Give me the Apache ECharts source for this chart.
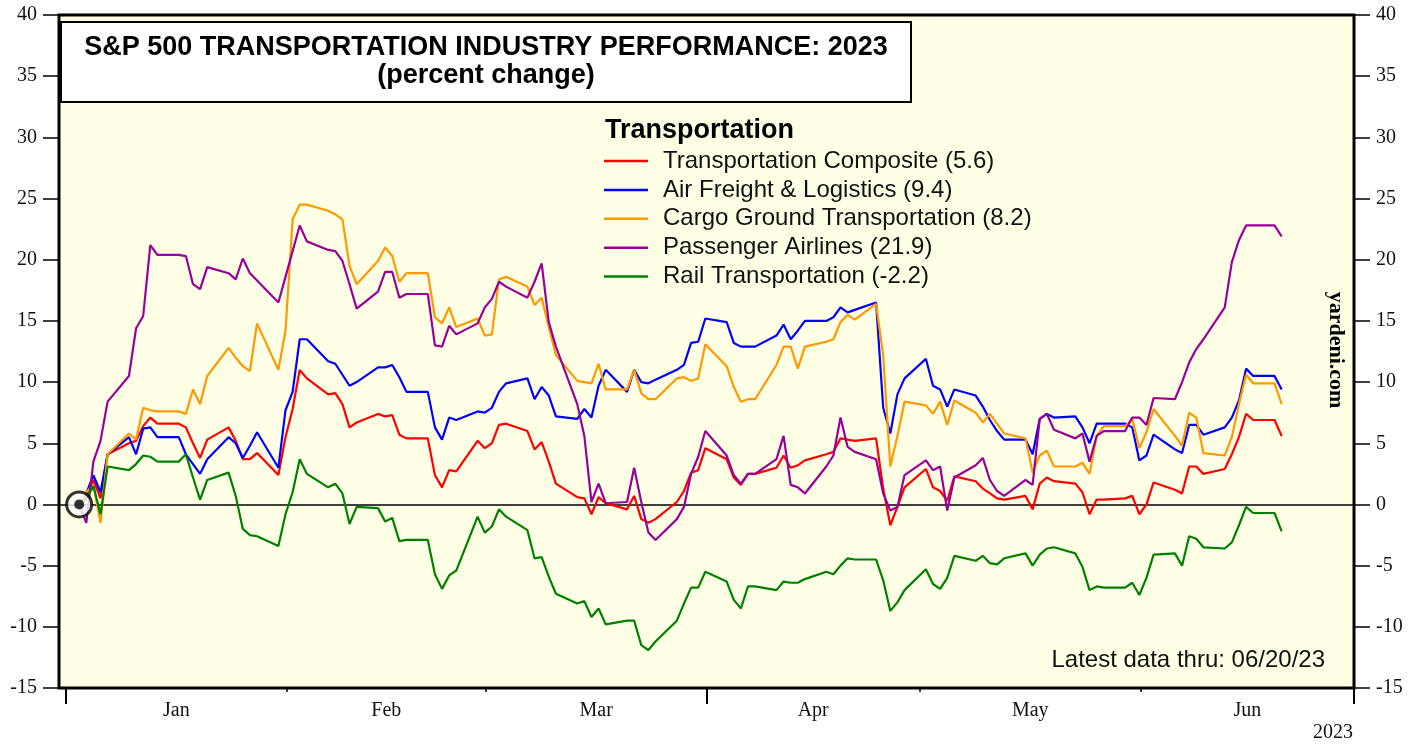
<!DOCTYPE html>
<html>
<head>
<meta charset="utf-8">
<script src="https://cdn.jsdelivr.net/npm/echarts@6/dist/echarts.min.js"></script>
<style>
  html, body { margin: 0; padding: 0; background: #fff; }
  #chart { width: 1419px; height: 744px; }
</style>
</head>
<body>
<div id="chart"></div>
<script>
// weekdays from the base date through 06/20/23 (holidays carry the prior value)
const dates = [
  '2023-01-02','2023-01-03','2023-01-04','2023-01-05','2023-01-06','2023-01-09','2023-01-10','2023-01-11',
  '2023-01-12','2023-01-13','2023-01-16','2023-01-17','2023-01-18','2023-01-19','2023-01-20','2023-01-23',
  '2023-01-24','2023-01-25','2023-01-26','2023-01-27','2023-01-30','2023-01-31',
  '2023-02-01','2023-02-02','2023-02-03','2023-02-06','2023-02-07','2023-02-08','2023-02-09','2023-02-10',
  '2023-02-13','2023-02-14','2023-02-15','2023-02-16','2023-02-17','2023-02-20','2023-02-21','2023-02-22',
  '2023-02-23','2023-02-24','2023-02-27','2023-02-28',
  '2023-03-01','2023-03-02','2023-03-03','2023-03-06','2023-03-07','2023-03-08','2023-03-09','2023-03-10',
  '2023-03-13','2023-03-14','2023-03-15','2023-03-16','2023-03-17','2023-03-20','2023-03-21','2023-03-22',
  '2023-03-23','2023-03-24','2023-03-27','2023-03-28','2023-03-29','2023-03-30','2023-03-31',
  '2023-04-03','2023-04-04','2023-04-05','2023-04-06','2023-04-07','2023-04-10','2023-04-11','2023-04-12',
  '2023-04-13','2023-04-14','2023-04-17','2023-04-18','2023-04-19','2023-04-20','2023-04-21','2023-04-24',
  '2023-04-25','2023-04-26','2023-04-27','2023-04-28',
  '2023-05-01','2023-05-02','2023-05-03','2023-05-04','2023-05-05','2023-05-08','2023-05-09','2023-05-10',
  '2023-05-11','2023-05-12','2023-05-15','2023-05-16','2023-05-17','2023-05-18','2023-05-19','2023-05-22',
  '2023-05-23','2023-05-24','2023-05-25','2023-05-26','2023-05-29','2023-05-30','2023-05-31',
  '2023-06-01','2023-06-02','2023-06-05','2023-06-06','2023-06-07','2023-06-08','2023-06-09','2023-06-12',
  '2023-06-13','2023-06-14','2023-06-15','2023-06-16','2023-06-19','2023-06-20'
];

const composite = [
  0, 0.7, 2.0, 0.5, 4.1, 5.0, 5.2, 6.4, 7.1, 6.6, 6.6, 6.3, 5.0, 3.8, 5.3, 6.3, 5.2, 3.7, 3.7, 4.2, 2.4, 5.5,
  7.8, 11.0, 10.3, 9.0, 9.1, 8.2, 6.3, 6.7, 7.4, 7.2, 7.3, 5.7, 5.4, 5.4, 2.4, 1.4, 2.8, 2.7, 5.2, 4.6,
  5.0, 6.5, 6.6, 6.0, 4.5, 5.1, 3.5, 1.7, 0.6, 0.5, -0.8, 0.6, 0.1, -0.4, 0.7, -1.2, -1.5, -1.2, 0.2, 1.1, 2.6, 2.8, 4.6,
  3.7, 2.2, 1.6, 2.5, 2.5, 3.0, 4.0, 3.0, 3.2, 3.6, 4.1, 4.3, 5.4, 5.3, 5.2, 5.4, 1.3, -1.7, -0.2, 1.4,
  2.9, 1.4, 1.1, 0.3, 2.3, 1.9, 1.3, 0.9, 0.5, 0.4, 0.7, -0.4, 1.7, 2.2, 1.9, 1.7, 1.0, -0.8, 0.4, 0.4, 0.5, 0.7, -0.8,
  0.0, 1.8, 1.2, 0.9, 3.1, 3.1, 2.5, 2.9, 4.1, 5.5, 7.4, 6.9, 6.9, 5.6
];
const airFreight = [
  0, 0.9, 2.4, 1.0, 4.1, 5.5, 4.1, 6.2, 6.3, 5.5, 5.5, 4.1, 3.3, 2.5, 3.7, 5.5, 5.0, 3.8, 4.8, 5.9, 3.0, 7.7,
  9.2, 13.5, 13.5, 11.7, 11.5, 10.6, 9.7, 10.0, 11.2, 11.2, 11.4, 10.4, 9.2, 9.2, 6.3, 5.3, 7.1, 6.9, 7.6, 7.5,
  7.9, 9.2, 9.9, 10.3, 8.6, 9.6, 8.9, 7.2, 7.0, 7.8, 7.1, 9.7, 11.0, 9.2, 11.0, 10.0, 9.9, 10.2, 11.0, 11.4, 13.2, 13.3, 15.2,
  14.9, 13.2, 12.9, 12.9, 12.9, 13.8, 14.7, 13.5, 14.2, 15.0, 15.0, 15.3, 16.1, 15.7, 15.9, 16.5, 7.9, 5.8, 9.0, 10.3,
  11.9, 9.7, 9.4, 8.0, 9.4, 8.9, 8.0, 6.9, 6.0, 5.3, 5.3, 4.1, 7.0, 7.4, 7.1, 7.2, 6.3, 5.0, 6.6, 6.6, 6.6, 6.3, 3.6,
  4.0, 5.7, 4.5, 4.2, 6.5, 6.5, 5.7, 6.3, 7.1, 8.5, 11.1, 10.5, 10.5, 9.4
];
const cargoGround = [
  0, 1.0, 1.6, -1.5, 4.1, 5.8, 5.3, 7.9, 7.7, 7.6, 7.6, 7.4, 9.4, 8.2, 10.5, 12.8, 12.0, 11.3, 10.9, 14.8, 11.0, 14.2,
  23.3, 24.5, 24.5, 24.0, 23.7, 23.3, 19.5, 18.0, 19.9, 21.0, 20.3, 18.2, 18.9, 18.9, 15.3, 14.8, 16.1, 14.5, 15.2, 13.8,
  13.9, 18.4, 18.6, 17.8, 16.3, 16.9, 14.5, 12.2, 10.1, 10.0, 9.9, 11.5, 9.4, 9.4, 11.0, 9.1, 8.6, 8.6, 10.3, 10.4, 10.1, 10.3, 13.1,
  11.3, 9.6, 8.4, 8.6, 8.6, 11.4, 12.9, 12.9, 11.1, 12.9, 13.3, 13.5, 14.9, 15.5, 15.1, 16.4, 12.2, 3.1, 5.6, 8.4,
  8.1, 7.4, 8.4, 6.5, 8.5, 7.5, 6.7, 7.4, 6.6, 5.8, 5.4, 2.6, 4.0, 4.4, 3.1, 3.1, 3.4, 2.5, 5.6, 6.4, 6.4, 7.0, 4.6,
  5.9, 7.8, 5.6, 4.8, 7.5, 7.1, 4.2, 4.0, 5.5, 8.2, 10.6, 9.9, 9.9, 8.2
];
const airlines = [
  0, -1.5, 3.5, 5.2, 8.4, 10.5, 14.4, 15.4, 21.2, 20.4, 20.4, 20.3, 18.0, 17.6, 19.4, 18.9, 18.4, 20.1, 18.9, 18.3, 16.5, 18.6,
  20.7, 22.8, 21.5, 20.8, 20.7, 19.9, 18.0, 16.0, 17.4, 19.0, 19.0, 16.9, 17.2, 17.2, 13.0, 12.9, 14.6, 13.9, 14.8, 16.1,
  16.8, 18.2, 17.8, 16.9, 18.2, 19.7, 14.9, 12.9, 8.2, 5.6, 0.2, 1.7, 0.1, 0.2, 3.0, 0.2, -2.3, -2.9, -1.2, -0.2, 2.5, 3.9, 6.0,
  4.0, 2.4, 1.7, 2.5, 2.5, 3.7, 5.6, 1.6, 1.4, 0.9, 3.1, 4.0, 7.1, 4.7, 4.3, 3.7, 0.9, -0.5, -0.2, 2.4,
  3.6, 2.8, 3.1, -0.5, 2.2, 3.2, 3.8, 2.0, 1.1, 0.7, 2.0, 1.6, 7.0, 7.4, 6.1, 5.4, 5.8, 3.5, 5.6, 6.0, 6.0, 7.1, 7.1,
  6.5, 8.7, 8.6, 10.0, 11.6, 12.7, 13.5, 16.1, 19.8, 21.6, 22.8, 22.8, 22.8, 21.9
];
const rail = [
  0, 0.5, 1.5, -0.8, 3.1, 2.8, 3.3, 4.0, 3.9, 3.5, 3.5, 4.1, 2.2, 0.4, 2.0, 2.6, 0.7, -2.0, -2.5, -2.6, -3.4, -0.8,
  1.0, 3.7, 2.5, 1.4, 1.7, 0.9, -1.6, -0.2, -0.3, -1.4, -1.1, -3.0, -2.9, -2.9, -5.7, -6.9, -5.8, -5.4, -1.0, -2.3,
  -1.8, -0.4, -1.0, -2.1, -4.4, -4.3, -5.9, -7.3, -8.1, -7.9, -9.2, -8.5, -9.8, -9.5, -9.5, -11.5, -11.9, -11.2, -9.5, -8.1, -6.8, -6.8, -5.5,
  -6.3, -7.8, -8.5, -6.7, -6.7, -7.0, -6.3, -6.4, -6.4, -6.1, -5.5, -5.7, -5.0, -4.4, -4.5, -4.5, -6.2, -8.7, -8.0, -7.0,
  -5.3, -6.5, -6.9, -6.0, -4.2, -4.6, -4.2, -4.8, -4.9, -4.4, -4.0, -5.0, -4.1, -3.6, -3.5, -4.0, -5.1, -7.0, -6.7, -6.8, -6.8, -6.4, -7.4,
  -6.0, -4.1, -4.0, -5.0, -2.6, -2.8, -3.5, -3.6, -3.1, -1.7, -0.2, -0.7, -0.7, -2.2
];

const seriesNames = [
  'Transportation Composite (5.6)',
  'Air Freight & Logistics (9.4)',
  'Cargo Ground Transportation (8.2)',
  'Passenger Airlines (21.9)',
  'Rail Transportation (-2.2)'
];
const seriesValues = [composite, airFreight, cargoGround, airlines, rail];
const seriesColors = ['#ff0000', '#0000ff', '#ff9900', '#990099', '#008000'];

const monthNames = ['Jan', 'Feb', 'Mar', 'Apr', 'May', 'Jun'];
const monthStarts = ['2023-01-01', '2023-02-01', '2023-03-01', '2023-04-01', '2023-05-01', '2023-06-01', '2023-07-01'];
const quarterStarts = ['2023-01-01', '2023-04-01', '2023-07-01'];
const yTicks = { min: -15, max: 40, step: 5 };
const baseDate = '2023-01-02';

// points sit at the end of each day
const toTs = d => Date.parse(d + 'T20:00:00Z');
const dayTs = d => Date.parse(d + 'T00:00:00Z');

const xMin = Date.parse('2022-12-31T00:00:00Z');
const xMax = Date.parse('2023-07-01T00:00:00Z');
const monthMids = monthNames.map((m, i) => (dayTs(monthStarts[i]) + dayTs(monthStarts[i + 1])) / 2);

const chart = echarts.init(document.getElementById('chart'));

const serif = 'Liberation Serif';
const sans = 'Liberation Sans';

const lineSeries = seriesNames.map((name, i) => ({
  name,
  type: 'line',
  data: dates.map((d, j) => [toTs(d), seriesValues[i][j]]),
  symbol: 'none',
  lineStyle: { width: 2.2, color: seriesColors[i] },
  itemStyle: { color: seriesColors[i] },
  z: 3
}));

lineSeries[0].markLine = {
  silent: true,
  symbol: ['none', 'none'],
  label: { show: false },
  lineStyle: { color: '#000', width: 1.5, type: 'solid' },
  data: [{ yAxis: 0 }],
  z: 2
};

const yAxisBase = {
  type: 'value',
  min: yTicks.min,
  max: yTicks.max,
  interval: yTicks.step,
  axisLine: { show: false },
  axisTick: { show: true, length: 16, lineStyle: { color: '#000', width: 1.5 } },
  splitLine: { show: false },
  axisLabel: { margin: 22, fontFamily: serif, fontSize: 20, color: '#111' }
};

const xAxisBase = {
  type: 'value',
  min: xMin,
  max: xMax,
  axisLine: { show: false, onZero: false },
  splitLine: { show: false }
};

const option = {
  animation: false,
  backgroundColor: '#fff',
  grid: {
    left: 59, right: 65, top: 15, bottom: 56,
    show: true,
    backgroundColor: '#ffffe5',
    borderColor: '#000',
    borderWidth: 3
  },
  xAxis: [
    Object.assign({}, xAxisBase, {
      axisTick: {
        show: true, length: 4,
        customValues: monthStarts.map(dayTs),
        lineStyle: { color: '#000', width: 1.5 }
      },
      axisLabel: {
        show: true, margin: 13,
        customValues: monthMids,
        formatter: v => monthNames[new Date(v).getUTCMonth()],
        fontFamily: serif, fontSize: 20, color: '#111'
      }
    }),
    Object.assign({}, xAxisBase, {
      position: 'bottom',
      axisTick: {
        show: true, length: 16,
        customValues: quarterStarts.map(dayTs),
        lineStyle: { color: '#000', width: 2 }
      },
      axisLabel: { show: false }
    })
  ],
  yAxis: [
    Object.assign({}, yAxisBase, { position: 'left' }),
    Object.assign({}, yAxisBase, { position: 'right' })
  ],
  legend: {
    orient: 'vertical',
    left: 599,
    top: 144,
    icon: 'rect',
    itemWidth: 44,
    itemHeight: 2.5,
    itemGap: 4.9,
    selectedMode: false,
    data: seriesNames,
    textStyle: { fontFamily: sans, fontSize: 24, color: '#111', lineHeight: 20, padding: [0, 0, 0, 10] }
  },
  graphic: [
    {
      type: 'rect', z: 10,
      shape: { x: 61, y: 22, width: 850, height: 80 },
      style: { fill: '#fff', stroke: '#000', lineWidth: 2 }
    },
    {
      type: 'text', z: 11, x: 486, y: 48,
      style: { text: 'S&P 500 TRANSPORTATION INDUSTRY PERFORMANCE: 2023', font: 'bold 27px "Liberation Sans"', fill: '#000', textAlign: 'center', textVerticalAlign: 'middle' }
    },
    {
      type: 'text', z: 11, x: 486, y: 76,
      style: { text: '(percent change)', font: 'bold 27px "Liberation Sans"', fill: '#000', textAlign: 'center', textVerticalAlign: 'middle' }
    },
    {
      type: 'text', z: 11, x: 605, y: 131,
      style: { text: 'Transportation', font: 'bold 27px "Liberation Sans"', fill: '#000', textAlign: 'left', textVerticalAlign: 'middle' }
    },
    {
      type: 'text', z: 11, x: 1336, y: 350, rotation: -Math.PI / 2,
      style: { text: 'yardeni.com', font: 'bold 22px "Liberation Serif"', fill: '#000', textAlign: 'center', textVerticalAlign: 'middle' }
    },
    {
      type: 'text', z: 11, x: 1325, y: 660,
      style: { text: 'Latest data thru: 06/20/23', font: '24px "Liberation Sans"', fill: '#111', textAlign: 'right', textVerticalAlign: 'middle' }
    },
    {
      type: 'text', z: 11, x: 1333, y: 733,
      style: { text: '2023', font: '20px "Liberation Serif"', fill: '#111', textAlign: 'center', textVerticalAlign: 'middle' }
    }
  ],
  series: lineSeries.concat([
    {
      type: 'scatter',
      data: [[toTs(baseDate), 0]],
      symbolSize: 25,
      itemStyle: { color: '#fff', borderColor: '#000', borderWidth: 3 },
      silent: true,
      z: 5
    },
    {
      type: 'scatter',
      data: [[toTs(baseDate), 0]],
      symbolSize: 10,
      itemStyle: { color: '#000' },
      silent: true,
      z: 6
    }
  ])
};

chart.setOption(option);
</script>
</body>
</html>
